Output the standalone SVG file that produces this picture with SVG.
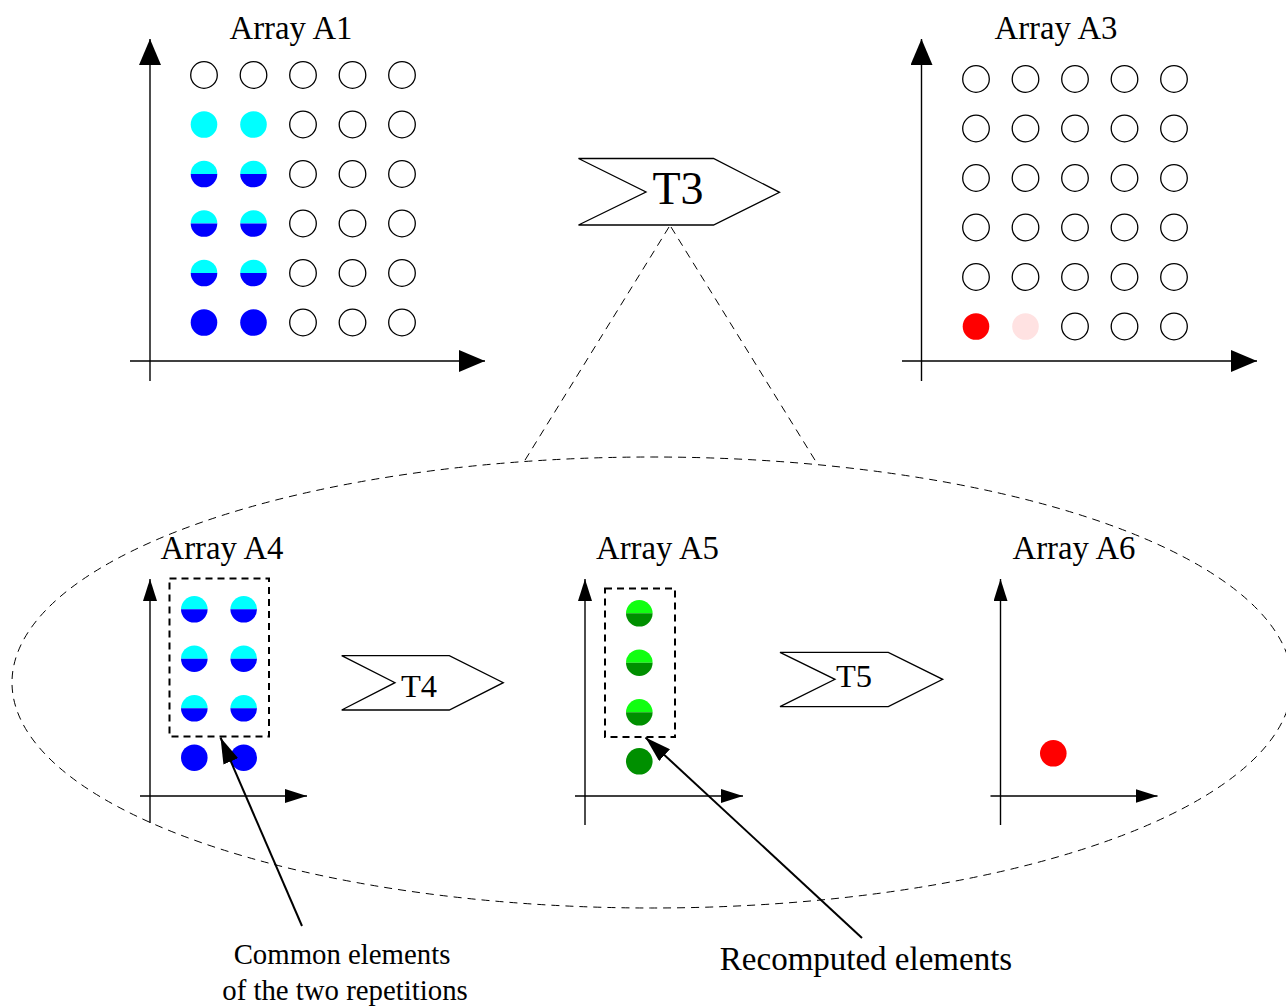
<svg xmlns="http://www.w3.org/2000/svg" width="1286" height="1008" viewBox="0 0 1286 1008">
<style>
text{font-family:"Liberation Serif","Times New Roman",serif;fill:#000}
.lbl{font-size:32.8px;text-anchor:middle}
.cap{font-size:28.8px;text-anchor:middle}
.ax{stroke:#000;stroke-width:1.4;fill:none}
.e{fill:#fff;stroke:#000;stroke-width:1.3}
.tr{fill:#fff;stroke:#000;stroke-width:1.3}
.dash{fill:none;stroke:#000;stroke-width:1;stroke-dasharray:8 6}
.box{fill:none;stroke:#000;stroke-width:2;stroke-dasharray:7 5}
.call{stroke:#000;stroke-width:2;fill:none}
</style>
<defs>
<marker id="bigA" markerUnits="userSpaceOnUse" markerWidth="27" markerHeight="22" refX="26" refY="11" orient="auto"><path d="M0,0 L26,11 L0,22 Z" fill="#000"/></marker>
<marker id="smA" markerUnits="userSpaceOnUse" markerWidth="23" markerHeight="14" refX="22" refY="7" orient="auto"><path d="M0,0 L22,7 L0,14 Z" fill="#000"/></marker>
<marker id="cA" markerUnits="userSpaceOnUse" markerWidth="27" markerHeight="16" refX="26" refY="8" orient="auto"><path d="M0,0 L26,8 L0,16 Z" fill="#000"/></marker>
<circle id="o" r="13.3" class="e"/>
<circle id="cy" r="13.3" fill="#00ffff"/>
<circle id="bl" r="13.3" fill="#0000ff"/>
<circle id="rd" r="13.3" fill="#ff0000"/>
<circle id="pk" r="13.3" fill="#ffe2e2"/>
<circle id="dg" r="13.3" fill="#008f00"/>
<g id="hb"><path d="M-13.3,0 A13.3,13.3 0 0 1 13.3,0 Z" fill="#00ffff"/><path d="M-13.3,0 A13.3,13.3 0 0 0 13.3,0 Z" fill="#0000ff"/></g>
<g id="hg"><path d="M-13.3,0 A13.3,13.3 0 0 1 13.3,0 Z" fill="#11ff11"/><path d="M-13.3,0 A13.3,13.3 0 0 0 13.3,0 Z" fill="#008f00"/></g>
</defs>
<rect width="1286" height="1008" fill="#fff"/>

<g id="zoom-outline">
<ellipse class="dash" cx="652" cy="682.5" rx="640" ry="225.5"/>
</g>

<g id="array-A1">
<text class="lbl" x="291" y="38.5">Array A1</text>
<line class="ax" x1="150" y1="381" x2="150" y2="39" marker-end="url(#bigA)"/>
<line class="ax" x1="130" y1="361" x2="485" y2="361" marker-end="url(#bigA)"/>
<use href="#o" x="204" y="75"/><use href="#o" x="253.5" y="75"/><use href="#o" x="303" y="75"/><use href="#o" x="352.5" y="75"/><use href="#o" x="402" y="75"/>
<use href="#cy" x="204" y="124.5"/><use href="#cy" x="253.5" y="124.5"/><use href="#o" x="303" y="124.5"/><use href="#o" x="352.5" y="124.5"/><use href="#o" x="402" y="124.5"/>
<use href="#hb" x="204" y="174"/><use href="#hb" x="253.5" y="174"/><use href="#o" x="303" y="174"/><use href="#o" x="352.5" y="174"/><use href="#o" x="402" y="174"/>
<use href="#hb" x="204" y="223.5"/><use href="#hb" x="253.5" y="223.5"/><use href="#o" x="303" y="223.5"/><use href="#o" x="352.5" y="223.5"/><use href="#o" x="402" y="223.5"/>
<use href="#hb" x="204" y="273"/><use href="#hb" x="253.5" y="273"/><use href="#o" x="303" y="273"/><use href="#o" x="352.5" y="273"/><use href="#o" x="402" y="273"/>
<use href="#bl" x="204" y="322.5"/><use href="#bl" x="253.5" y="322.5"/><use href="#o" x="303" y="322.5"/><use href="#o" x="352.5" y="322.5"/><use href="#o" x="402" y="322.5"/>
</g>

<g id="array-A3">
<text class="lbl" x="1056" y="38.5">Array A3</text>
<line class="ax" x1="921.5" y1="381" x2="921.5" y2="39" marker-end="url(#bigA)"/>
<line class="ax" x1="902" y1="361" x2="1257" y2="361" marker-end="url(#bigA)"/>
<use href="#o" x="976" y="79"/><use href="#o" x="1025.5" y="79"/><use href="#o" x="1075" y="79"/><use href="#o" x="1124.5" y="79"/><use href="#o" x="1174" y="79"/>
<use href="#o" x="976" y="128.5"/><use href="#o" x="1025.5" y="128.5"/><use href="#o" x="1075" y="128.5"/><use href="#o" x="1124.5" y="128.5"/><use href="#o" x="1174" y="128.5"/>
<use href="#o" x="976" y="178"/><use href="#o" x="1025.5" y="178"/><use href="#o" x="1075" y="178"/><use href="#o" x="1124.5" y="178"/><use href="#o" x="1174" y="178"/>
<use href="#o" x="976" y="227.5"/><use href="#o" x="1025.5" y="227.5"/><use href="#o" x="1075" y="227.5"/><use href="#o" x="1124.5" y="227.5"/><use href="#o" x="1174" y="227.5"/>
<use href="#o" x="976" y="277"/><use href="#o" x="1025.5" y="277"/><use href="#o" x="1075" y="277"/><use href="#o" x="1124.5" y="277"/><use href="#o" x="1174" y="277"/>
<use href="#rd" x="976" y="326.5"/><use href="#pk" x="1025.5" y="326.5"/><use href="#o" x="1075" y="326.5"/><use href="#o" x="1124.5" y="326.5"/><use href="#o" x="1174" y="326.5"/>
</g>

<g id="T3">
<polygon class="tr" points="578.5,158.5 713.5,158.5 779.5,192.3 713.5,225 578.5,225 646,192"/>
<text x="678" y="203.5" style="font-size:46px;text-anchor:middle">T3</text>
</g>

<g id="array-A4">
<text class="lbl" x="222" y="558.5">Array A4</text>
<line class="ax" x1="150" y1="823" x2="150" y2="579" marker-end="url(#smA)"/>
<line class="ax" x1="140" y1="796" x2="307" y2="796" marker-end="url(#smA)"/>
<use href="#hb" x="194.3" y="609.3"/><use href="#hb" x="243.7" y="609.3"/>
<use href="#hb" x="194.3" y="658.7"/><use href="#hb" x="243.7" y="658.7"/>
<use href="#hb" x="194.3" y="708.3"/><use href="#hb" x="243.7" y="708.3"/>
<use href="#bl" x="194.3" y="757.7"/><use href="#bl" x="243.7" y="757.7"/>
<rect class="box" x="169.5" y="578.5" width="99.5" height="158"/>
</g>

<g id="T4">
<polygon class="tr" points="341.7,655.7 449.3,655.7 503.3,682.7 449.3,710 341.7,710 395,682.7"/>
<text x="419" y="696.7" style="font-size:32.5px;text-anchor:middle">T4</text>
</g>

<g id="array-A5">
<text class="lbl" x="657.5" y="558.5">Array A5</text>
<line class="ax" x1="585" y1="825" x2="585" y2="579" marker-end="url(#smA)"/>
<line class="ax" x1="575" y1="796" x2="743" y2="796" marker-end="url(#smA)"/>
<use href="#hg" x="639.3" y="613.3"/>
<use href="#hg" x="639.3" y="662.7"/>
<use href="#hg" x="639.3" y="712.3"/>
<use href="#dg" x="639.3" y="761.3"/>
<rect class="box" x="605" y="588.5" width="70" height="148.5"/>
</g>

<g id="T5">
<polygon class="tr" points="780,652.3 888.3,652.3 942.7,679.3 888.3,706.7 780,706.7 835,679.3"/>
<text x="854" y="687" style="font-size:32.5px;text-anchor:middle">T5</text>
</g>

<g id="array-A6">
<text class="lbl" x="1074" y="558.5">Array A6</text>
<line class="ax" x1="1000.5" y1="825" x2="1000.5" y2="579" marker-end="url(#smA)"/>
<line class="ax" x1="990.5" y1="796" x2="1157.5" y2="796" marker-end="url(#smA)"/>
<use href="#rd" x="1053.3" y="753.3"/>
</g>

<g id="label-common">
<text class="cap" x="342" y="964">Common elements</text>
<text class="cap" x="345" y="999.5">of the two repetitions</text>
</g>
<g id="label-recomputed">
<text x="866" y="970" style="font-size:33px;text-anchor:middle">Recomputed elements</text>
</g>

<g id="connectors">
<line class="dash" x1="669" y1="227" x2="522" y2="465"/>
<line class="dash" x1="671" y1="227" x2="818" y2="465"/>
<line class="call" x1="302" y1="926" x2="220.5" y2="737.5" marker-end="url(#cA)"/>
<line class="call" x1="862" y1="938" x2="645.5" y2="737.5" marker-end="url(#cA)"/>
</g>
</svg>
